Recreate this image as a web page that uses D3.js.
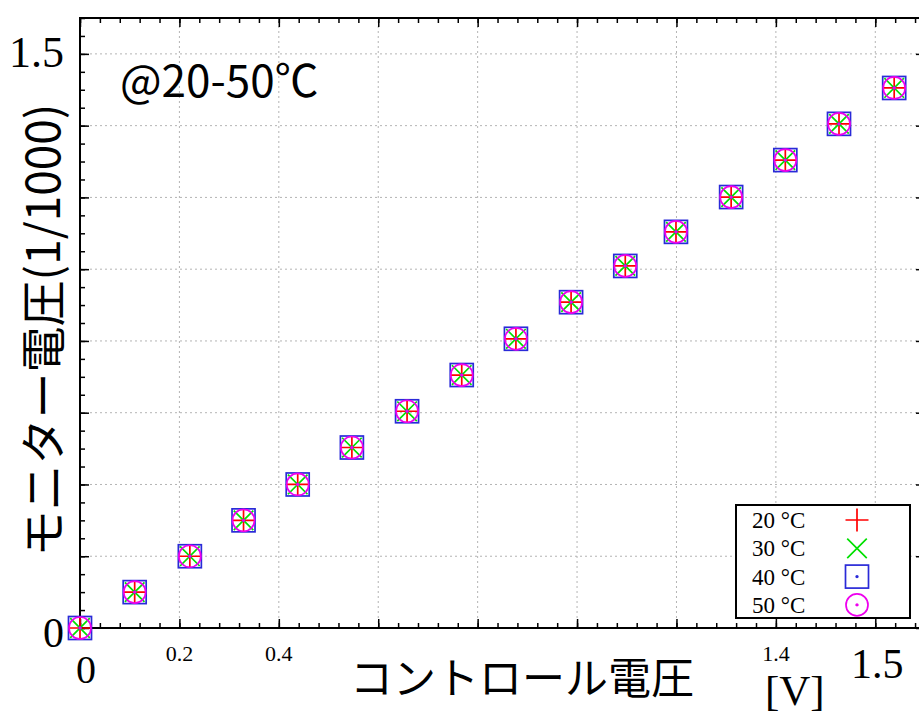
<!DOCTYPE html>
<html>
<head>
<meta charset="utf-8">
<script src="https://d3js.org/d3.v7.min.js"></script>
<style>
  body { margin: 0; background: #fff; }
</style>
</head>
<body>
<div id="plot"></div>
<script>
// data (all four temperatures lie on top of each other)
const controlVoltage = [0, 0.11, 0.221, 0.329, 0.438, 0.547, 0.658, 0.768, 0.877, 0.988, 1.097, 1.199, 1.31, 1.419, 1.527, 1.638];
const monitor20 = [0, 0.1, 0.2, 0.3, 0.4, 0.503, 0.604, 0.705, 0.806, 0.908, 1.009, 1.104, 1.201, 1.304, 1.405, 1.505];
const monitor30 = [0, 0.1, 0.2, 0.3, 0.4, 0.503, 0.604, 0.705, 0.806, 0.908, 1.009, 1.104, 1.201, 1.304, 1.405, 1.505];
const monitor40 = [0, 0.1, 0.2, 0.3, 0.4, 0.503, 0.604, 0.705, 0.806, 0.908, 1.009, 1.104, 1.201, 1.304, 1.405, 1.505];
const monitor50 = [0, 0.1, 0.2, 0.3, 0.4, 0.503, 0.604, 0.705, 0.806, 0.908, 1.009, 1.104, 1.201, 1.304, 1.405, 1.505];
const seriesNames = ["20 °C", "30 °C", "40 °C", "50 °C"];

const majorTicks = [0, 0.2, 0.4, 0.6, 0.8, 1.0, 1.2, 1.4, 1.6];
const xLabelValues = [0.2, 0.4, 1.4];
const xLabelTexts = ["0.2", "0.4", "1.4"];

const width = 919;
const height = 713;
const margin = {top: 18, right: -6, bottom: 85, left: 80};

const svg = d3.select("#plot").append("svg")
    .attr("width", width)
    .attr("height", height);

// scales
const xScale = d3.scaleLinear()
    .domain([0, 1.7])
    .range([margin.left, width - margin.right]);
const yScale = d3.scaleLinear()
    .domain([0, 1.7])
    .range([height - margin.bottom, margin.top]);

const x0 = xScale(0), x1 = xScale(1.7), y0 = yScale(0), y1 = yScale(1.7);

// dotted grid
svg.append("g").selectAll("line")
    .data(majorTicks.filter(d => d > 0))
    .enter().append("line")
    .attr("x1", d => xScale(d)).attr("x2", d => xScale(d))
    .attr("y1", y0).attr("y2", y1)
    .attr("stroke", "#b4b4b4").attr("stroke-width", 1).attr("stroke-dasharray", "2,3");
svg.append("g").selectAll("line")
    .data(majorTicks.filter(d => d > 0))
    .enter().append("line")
    .attr("y1", d => yScale(d)).attr("y2", d => yScale(d))
    .attr("x1", x0).attr("x2", x1)
    .attr("stroke", "#b4b4b4").attr("stroke-width", 1).attr("stroke-dasharray", "2,3");

// ticks on all four sides, pointing inwards
const xMinor = d3.range(0, 1.7001, 0.04);
const yMinor = d3.range(0, 1.7001, 0.05);
function styleAxis(g) {
    g.select(".domain").remove();
    g.selectAll("line").attr("stroke", "#000").attr("stroke-width", 1.5);
    g.selectAll("text").remove();
}
svg.append("g").attr("transform", `translate(0,${y0})`)
    .call(d3.axisBottom(xScale).tickValues(xMinor).tickSize(-5)).call(styleAxis);
svg.append("g").attr("transform", `translate(0,${y0})`)
    .call(d3.axisBottom(xScale).tickValues(majorTicks).tickSize(-9)).call(styleAxis);
svg.append("g").attr("transform", `translate(0,${y1})`)
    .call(d3.axisTop(xScale).tickValues(xMinor).tickSize(-5)).call(styleAxis);
svg.append("g").attr("transform", `translate(0,${y1})`)
    .call(d3.axisTop(xScale).tickValues(majorTicks).tickSize(-9)).call(styleAxis);
svg.append("g").attr("transform", `translate(${x0},0)`)
    .call(d3.axisLeft(yScale).tickValues(yMinor).tickSize(-5)).call(styleAxis);
svg.append("g").attr("transform", `translate(${x0},0)`)
    .call(d3.axisLeft(yScale).tickValues(majorTicks).tickSize(-9)).call(styleAxis);
svg.append("g").attr("transform", `translate(${x1},0)`)
    .call(d3.axisRight(yScale).tickValues(yMinor).tickSize(-5)).call(styleAxis);
svg.append("g").attr("transform", `translate(${x1},0)`)
    .call(d3.axisRight(yScale).tickValues(majorTicks).tickSize(-9)).call(styleAxis);

// frame
svg.append("rect")
    .attr("x", x0).attr("y", y1)
    .attr("width", x1 - x0).attr("height", y0 - y1)
    .attr("fill", "none").attr("stroke", "#000").attr("stroke-width", 2);

// tick labels (hand placed in the original, mixed sizes)
const serif = "'Liberation Serif', 'DejaVu Serif', serif";
const sans = "'Noto Sans CJK JP', 'Noto Sans', sans-serif";
svg.append("g").selectAll("text")
    .data(xLabelValues)
    .enter().append("text")
    .attr("x", d => xScale(d))
    .attr("y", 661)
    .attr("text-anchor", "middle")
    .attr("font-family", serif).attr("font-size", 22)
    .text((d, i) => xLabelTexts[i]);
svg.append("text").attr("x", xScale(0) + 6).attr("y", 683)
    .attr("text-anchor", "middle").attr("font-family", serif).attr("font-size", 40).text("0");
svg.append("text").attr("x", xScale(1.6) + 2).attr("y", 678)
    .attr("text-anchor", "middle").attr("font-family", serif).attr("font-size", 42).text("1.5");
svg.append("text").attr("x", 64).attr("y", 647)
    .attr("text-anchor", "end").attr("font-family", serif).attr("font-size", 42).text("0");
svg.append("text").attr("x", 64).attr("y", 67)
    .attr("text-anchor", "end").attr("font-family", serif).attr("font-size", 44).text("1.5");

// axis titles
svg.append("text").attr("x", 350).attr("y", 694)
    .attr("font-family", sans).attr("font-size", 43).text("コントロール電圧");
svg.append("text").attr("x", 765).attr("y", 705)
    .attr("font-family", serif).attr("font-size", 43).text("[V]");
svg.append("text")
    .attr("transform", "translate(40,330) rotate(-90)")
    .attr("text-anchor", "middle").attr("dominant-baseline", "central")
    .attr("font-family", sans).attr("font-size", 46)
    .text("モニター電圧(1/1000)");
svg.append("text").attr("x", 120).attr("y", 97)
    .attr("font-family", sans).attr("font-size", 44).text("@20-50℃");

// point symbols like gnuplot: plus, cross, box, circle
const colors = ["#ff0000", "#00e000", "#2a2ad8", "#ee00ee"];
const half = 11.5;
function drawSymbol(g, type, color) {
    if (type === 0) {
        g.append("path").attr("d", `M${-half},0H${half}M0,${-half}V${half}`);
    } else if (type === 1) {
        const c = half * 0.85;
        g.append("path").attr("d", `M${-c},${-c}L${c},${c}M${-c},${c}L${c},${-c}`);
    } else if (type === 2) {
        g.append("rect").attr("x", -half).attr("y", -half).attr("width", 2 * half).attr("height", 2 * half);
        g.append("circle").attr("r", 0.8).attr("fill", color);
    } else {
        g.append("circle").attr("r", half - 0.5);
        g.append("circle").attr("r", 0.8).attr("fill", color);
    }
    g.selectAll("path, rect, circle")
        .attr("stroke", color).attr("stroke-width", 1.7)
        .filter(function () { return !this.getAttribute("fill"); })
        .attr("fill", "none");
}

const series = [monitor20, monitor30, monitor40, monitor50];
series.forEach((values, s) => {
    svg.append("g").selectAll("g")
        .data(controlVoltage.map((v, i) => [v, values[i]]))
        .enter().append("g")
        .attr("transform", d => `translate(${xScale(d[0])},${yScale(d[1])})`)
        .each(function () { drawSymbol(d3.select(this), s, colors[s]); });
});

// legend
const legend = svg.append("g").attr("transform", "translate(736,505)");
legend.append("rect")
    .attr("width", 174).attr("height", 113)
    .attr("fill", "#fff").attr("stroke", "#000").attr("stroke-width", 2);
seriesNames.forEach((name, i) => {
    const row = legend.append("g").attr("transform", `translate(0,${15 + i * 28.3})`);
    row.append("text").attr("x", 16).attr("y", 8)
        .attr("font-family", serif).attr("font-size", 23).text(name);
    const sym = row.append("g").attr("transform", "translate(121,0)");
    drawSymbol(sym, i, colors[i]);
});
</script>
</body>
</html>
